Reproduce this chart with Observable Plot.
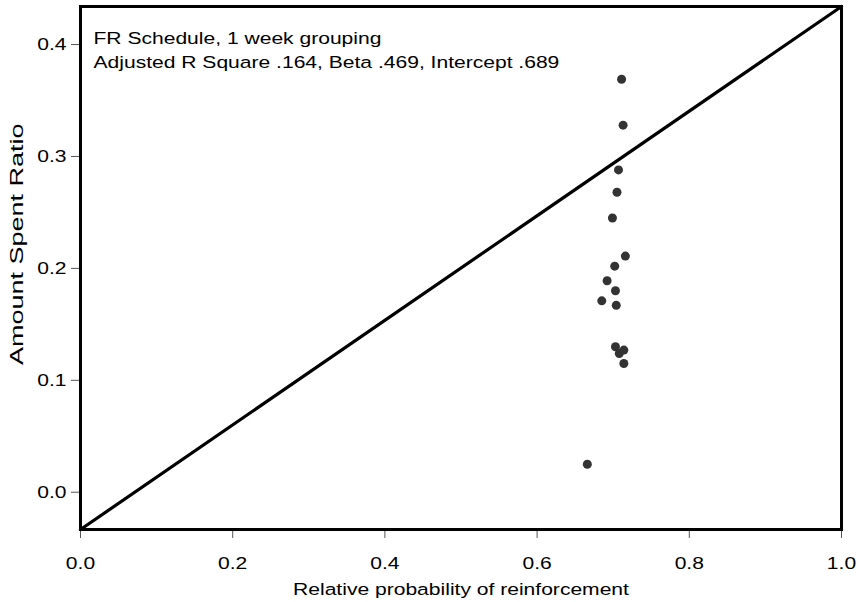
<!DOCTYPE html>
<html><head><meta charset="utf-8">
<script src="https://cdn.jsdelivr.net/npm/d3@7"></script>
<script src="https://cdn.jsdelivr.net/npm/@observablehq/plot@0.6"></script>
<style>
body{margin:0;background:#fff;}
#chart svg{display:block;}
</style></head><body><div id="chart"></div>
<script>
const probability = [0.711,0.713,0.707,0.705,0.699,0.716,0.702,0.692,0.703,0.685,0.704,0.703,0.714,0.708,0.714,0.666];
const spentRatio = [0.369,0.328,0.288,0.268,0.245,0.211,0.202,0.189,0.180,0.171,0.167,0.130,0.127,0.124,0.115,0.025];
const xTicks = [0,0.2,0.4,0.6,0.8,1.0];
const yTicks = [0,0.1,0.2,0.3,0.4];
const xDomain = [0,1];
const yDomain = [-0.0333, 0.434];
const diagX = [0,1];
const diagY = [-0.0333, 0.434];
const annotations = ["FR Schedule, 1 week grouping", "Adjusted R Square .164, Beta .469, Intercept .689"];
const xLabel = "Relative probability of reinforcement";
const yLabel = "Amount Spent Ratio";

const points = probability.map((x,i)=>({x, y: spentRatio[i]}));
const diag = diagX.map((x,i)=>({x, y: diagY[i]}));
const fmt = d3.format(".1f");

const plot = Plot.plot({
  width:864, height:602,
  marginLeft:80, marginRight:23, marginTop:6, marginBottom:73,
  style:{fontFamily:"'Liberation Sans', Arial, sans-serif", fontSize:"17px", background:"#fff", color:"#000"},
  x:{domain:xDomain},
  y:{domain:yDomain},
  marks:[
    Plot.axisX(xTicks, {tickSize:9, tickPadding:18, tickFormat:fmt, label:null, stroke:"#555", fill:"#000"}),
    Plot.axisY(yTicks, {tickSize:9, tickPadding:5, tickFormat:fmt, label:null, stroke:"#555", fill:"#000"}),
    Plot.line(diag, {x:"x", y:"y", stroke:"#000", strokeWidth:3.2}),
    Plot.dot(points, {x:"x", y:"y", r:4.5, fill:"#333", stroke:"none"}),
    Plot.text([annotations.join("\n")], {frameAnchor:"top-left", dx:13, dy:20, lineAnchor:"top", textAnchor:"start", lineHeight:24/17, fill:"#000"}),
    Plot.text([xLabel], {frameAnchor:"bottom", dy:60, lineAnchor:"middle", fill:"#000"}),
    Plot.text([yLabel], {frameAnchor:"left", dx:-64, dy:97, rotate:-90, lineAnchor:"middle", fontSize:18, fill:"#000"}),
    Plot.frame({stroke:"#000", strokeWidth:3})
  ]
});

plot.querySelectorAll("text").forEach(t=>{
  const tr = t.getAttribute("transform") || "";
  const x = t.getAttribute("x");
  let pre = "";
  if (x !== null && x !== "" && !isNaN(+x)) { pre = ` translate(${+x},0)`; t.setAttribute("x", 0); }
  const rot = /rotate/.test(tr);
  t.setAttribute("transform", (tr + pre + (rot ? " scale(1.5,1.05)" : " scale(1.24,1)")).trim());
});

document.getElementById("chart").appendChild(plot);
</script></body></html>
